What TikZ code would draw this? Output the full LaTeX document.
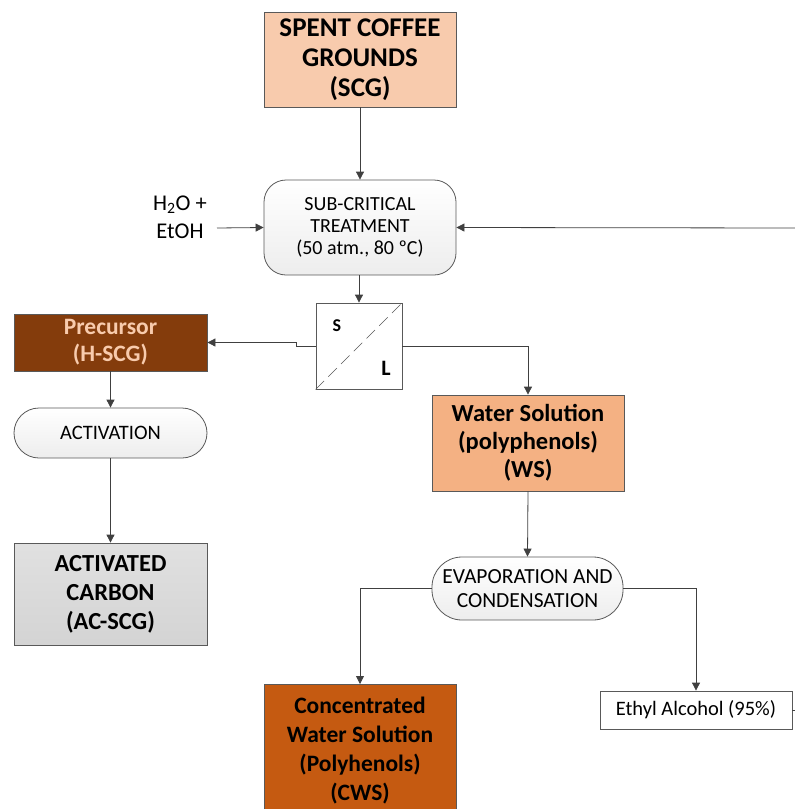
\documentclass[tikz,border=0pt]{standalone}
\usepackage{fontspec}
\setmainfont{Carlito}
\usetikzlibrary{arrows.meta}
\definecolor{edge}{HTML}{595959}
\definecolor{line}{HTML}{404040}
\definecolor{peach}{HTML}{F8CBAD}
\definecolor{orng}{HTML}{F4B183}
\definecolor{brown}{HTML}{843C0C}
\definecolor{rust}{HTML}{C55A11}
\begin{document}
\begin{tikzpicture}[x=1pt,y=-1pt,
  box/.style={draw=edge, line width=0.8pt, align=center, inner sep=2pt},
  proc/.style={box, rounded corners=#1, top color=white, bottom color=black!7},
  conn/.style={draw=line, line width=0.8pt},
  arr/.style={conn, -{Triangle[width=8pt,length=8pt]}}
]
\clip (0,0) rectangle (795,809);
\useasboundingbox (0,0) rectangle (795,809);

\node[box, fill=peach, minimum width=192pt, minimum height=95pt, font=\bfseries\fontsize{27}{30}\selectfont] (scg) at (360,59.5) {SPENT COFFEE\\GROUNDS\\(SCG)};
\node[proc=22pt, minimum width=192pt, minimum height=95pt, font=\fontsize{20}{22}\selectfont] (treat) at (360,227.5) {SUB-CRITICAL\\TREATMENT\\(50 atm., 80 ºC)};
\node[align=center, font=\fontsize{22.5}{28}\selectfont] (h2o) at (180,217) {H\textsubscript{2}O +\\EtOH};
\coordinate (hin) at (217,228);
\coordinate (rin) at (795,228);

\node[draw=edge, line width=0.8pt, fill=white, minimum width=86pt, minimum height=86pt] (sep) at (359,346) {};
\draw[edge, line width=0.6pt, dash pattern=on 12pt off 6pt] (sep.south west) -- (sep.north east);
\node[font=\bfseries\fontsize{18}{20}\selectfont] (s) at (337,326) {S};
\node[font=\bfseries\fontsize{22}{24}\selectfont] (l) at (386,368) {L};

\node[box, fill=brown, text=peach, minimum width=193pt, minimum height=57pt, font=\bfseries\fontsize{23.5}{27}\selectfont] (prec) at (110.5,342.5) {Precursor\\(H-SCG)};
\node[proc=25pt, minimum width=193pt, minimum height=50pt, font=\fontsize{20.5}{22}\selectfont] (act) at (110.5,433) {ACTIVATION};
\node[box, top color=black!12, bottom color=black!17, minimum width=193pt, minimum height=102pt, font=\bfseries\fontsize{24.5}{29}\selectfont] (ac) at (110.5,594) {ACTIVATED\\CARBON\\(AC-SCG)};

\node[box, fill=orng, minimum width=192pt, minimum height=96pt, font=\bfseries\fontsize{24.5}{28}\selectfont] (ws) at (528,443) {Water Solution\\(polyphenols)\\(WS)};
\node[proc=30pt, minimum width=191pt, minimum height=63pt, font=\fontsize{21.5}{24}\selectfont] (evap) at (527.5,588.5) {EVAPORATION AND\\CONDENSATION};
\node[box, fill=rust, minimum width=192pt, minimum height=132pt, font=\bfseries\fontsize{23.5}{29}\selectfont, anchor=north] (cws) at (360,684) {Concentrated\\Water Solution\\(Polyhenols)\\(CWS)};
\node[box, fill=white, minimum width=192pt, minimum height=38pt, font=\fontsize{20.5}{22}\selectfont] (eth) at (696,710) {Ethyl Alcohol (95\%)};
\coordinate (eout) at (795,710);

\draw[arr] (scg.south) -- (treat.north);
\draw[arr] (hin) -- (treat.west);
\draw[arr] (rin) -- (treat.east);
\draw[arr] (treat.south -| sep.north) -- (sep.north);
\draw[arr] (sep.west) -- ++(-19,0) |- (prec.east);
\draw[arr] (sep.east) -| (ws.north);
\draw[arr] (prec.south) -- (act.north);
\draw[arr] (act.south) -- (ac.north);
\draw[arr] (ws.south) -- (evap.north);
\draw[arr] (evap.west) -| (cws.north);
\draw[arr] (evap.east) -| (eth.north);
\draw[conn] (eth.east) -- (eout);
\end{tikzpicture}
\end{document}
